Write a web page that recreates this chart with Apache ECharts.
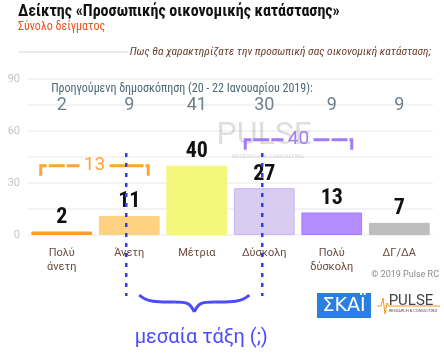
<!DOCTYPE html>
<html><head><meta charset="utf-8">
<script src="https://cdn.jsdelivr.net/npm/echarts@6/dist/echarts.min.js"></script>
<style>html,body{margin:0;padding:0;background:#fff}#c{width:444px;height:359px}</style>
</head><body><div id="c"></div>
<script>
const categories = ['Πολύ\nάνετη', 'Άνετη', 'Μέτρια', 'Δύσκολη', 'Πολύ\nδύσκολη', 'ΔΓ/ΔΑ'];
const values = [2, 11, 40, 27, 13, 7];
const previous = [2, 9, 41, 30, 9, 9];
const yTicks = [0, 30, 60, 90];
const groupA = [0, 1];
const groupB = [3, 4];

const colors = ['#FF9A2E', '#FFD282', '#F3F77C', '#D8CCF2', '#B38DFF', '#BDBDBD'];
const borders = ['#FF9A2E', '#FFD282', '#F3F77C', '#C9B6F2', '#A57CFF', '#BDBDBD'];
const F = "'Roboto Condensed','Liberation Sans Narrow',Roboto,sans-serif";

const chart = echarts.init(document.getElementById('c'));
chart.setOption({
  animation: false,
  textStyle: { fontFamily: F },
  grid: { left: 28, right: 11, top: 79, bottom: 124 },
  xAxis: {
    type: 'category', data: categories,
    axisLine: { show: false }, axisTick: { show: false },
    axisLabel: { color: '#6b4a40', fontSize: 11, lineHeight: 14, margin: 11, fontFamily: 'Roboto,sans-serif', interval: 0 }
  },
  yAxis: {
    type: 'value', min: 0, max: 90, interval: 15,
    axisLine: { show: false }, axisTick: { show: false },
    splitLine: { lineStyle: { color: '#efefef', width: 1.5 } },
    axisLabel: { color: '#c4c4c4', fontSize: 11, margin: 8, fontFamily: 'Roboto,sans-serif',
      formatter: v => yTicks.includes(v) ? String(v) : '' }
  },
  series: [
    {
      type: 'bar', barCategoryGap: '10%', z: 3,
      data: values.map((v, i) => ({ value: v, itemStyle: { color: colors[i], borderColor: borders[i], borderWidth: 1 } })),
      label: { show: true, position: 'top', distance: 3, color: '#111', fontWeight: 'bold', fontSize: 22, fontFamily: F }
    },
    {
      type: 'scatter', symbolSize: 0, z: 4,
      data: previous.map((p, i) => [i, 75, p]),
      label: { show: true, position: 'inside', formatter: p => String(p.data[2]), color: '#4a6070', fontSize: 18, fontFamily: 'Roboto,sans-serif' }
    }
  ]
});

function px(i, v) { return chart.convertToPixel({ gridIndex: 0 }, [i, v]); }
const g = [];
function txt(x, y, text, font, fill, align, extra) {
  g.push(Object.assign({ type: 'text', x: x, y: y, style: { text: text, font: font, fill: fill, align: align || 'left', verticalAlign: 'middle' } }, extra || {}));
}
// title
txt(18, 12, 'Δείκτης «Προσωπικής οικονομικής κατάστασης»', 'bold 16px ' + F, '#111');
txt(18, 27, 'Σύνολο δείγματος', '12px ' + F, '#E8501E');
g.push({ type: 'line', shape: { x1: 18, y1: 52, x2: 128, y2: 52 }, style: { stroke: '#e6e6e6', lineWidth: 1.5 } });
txt(431, 52, 'Πως θα χαρακτηρίζατε την προσωπική σας οικονομική κατάσταση;', 'italic 11.5px ' + F, '#6b4030', 'right');
// previous header
txt(182, 89, 'Προηγούμενη δημοσκόπηση (20 - 22 Ιανουαρίου 2019):', '12px ' + F, '#4a6878', 'center');
// watermark
const wm = px(2.95, 57);
txt(wm[0], wm[1], 'PULSE', '32px Roboto,sans-serif', 'rgba(0,0,0,0.13)', 'center', { z: 0 });
txt(wm[0] + 4, wm[1] + 20, 'RESEARCH & CONSULTING', '6px Roboto,sans-serif', 'rgba(0,0,0,0.15)', 'center', { z: 0 });
// brackets
function bracket(grp, level, color, left, right) {
  const a = px(grp[0], level), b = px(grp[grp.length - 1], level);
  const x1 = a[0] + left, x2 = b[0] + right, y = a[1];
  const sum = grp.reduce((s, i) => s + values[i], 0);
  const mx = (x1 + x2) / 2;
  const st = { stroke: color, lineWidth: 3, lineDash: [16, 2], fill: null };
  g.push({ type: 'polyline', z: 5, shape: { points: [[x1, y + 10], [x1, y], [mx - 15, y]] }, style: Object.assign({}, st) });
  g.push({ type: 'polyline', z: 5, shape: { points: [[mx + 15, y], [x2, y], [x2, y + 10]] }, style: Object.assign({}, st) });
  txt(mx, y, String(sum), '19px Roboto,sans-serif', color, 'center', { z: 5 });
}
bracket(groupA, 40, '#FFA531', -21, 19);
bracket(groupB, 55, '#A27CF7', -19, 20);
// dotted middle-class lines
const l1 = px(groupA[1], 0)[0] - 3, l2 = px(groupB[0], 0)[0] - 2;
[l1, l2].forEach(x => g.push({ type: 'line', z: 6, shape: { x1: x, y1: 153, x2: x, y2: 296 }, style: { stroke: '#2F3BF0', lineWidth: 2.5, lineDash: [4, 6] } }));
// brace
const bm = (l1 + l2) / 2, bx1 = bm - 55, bx2 = bm + 55;
const bst = { stroke: '#4B4BFF', lineWidth: 3, fill: null };
[
  [bx1, 295, bx1 + 8, 303, bx1 + 22, 302, bx1 + 35, 302],
  [bx1 + 35, 302, bx1 + 48, 302, bm - 4, 303, bm, 312],
  [bm, 312, bm + 4, 303, bx2 - 48, 302, bx2 - 35, 302],
  [bx2 - 35, 302, bx2 - 22, 302, bx2 - 8, 303, bx2, 295]
].forEach(c => g.push({ type: 'bezierCurve', z: 6, shape: { x1: c[0], y1: c[1], cpx1: c[2], cpy1: c[3], cpx2: c[4], cpy2: c[5], x2: c[6], y2: c[7] }, style: Object.assign({}, bst) }));
txt(bm + 7, 338, 'μεσαία τάξη (;)', '20px Roboto,sans-serif', '#4B4BFF', 'center');
// copyright and logos
txt(439, 275, '© 2019 Pulse RC', '9px Roboto,sans-serif', '#8a8a8a', 'right');
g.push({ type: 'rect', shape: { x: 317, y: 293, width: 54, height: 25 }, style: { fill: '#2A7FE0' } });
txt(344, 306, 'ΣΚΑΪ', '19px "DejaVu Sans",sans-serif', '#fff', 'center');
g.push({ type: 'polyline', shape: { points: [[377, 306], [381, 306], [383, 298], [385, 314], [387, 303], [389, 306], [440, 306]] }, style: { stroke: '#F7941D', lineWidth: 1, fill: null } });
txt(411, 301, 'PULSE', '15px Roboto,sans-serif', '#444', 'center');
txt(413, 311, 'RESEARCH & CONSULTING', '4px Roboto,sans-serif', '#555', 'center');
chart.setOption({ graphic: { elements: g } });
</script></body></html>
